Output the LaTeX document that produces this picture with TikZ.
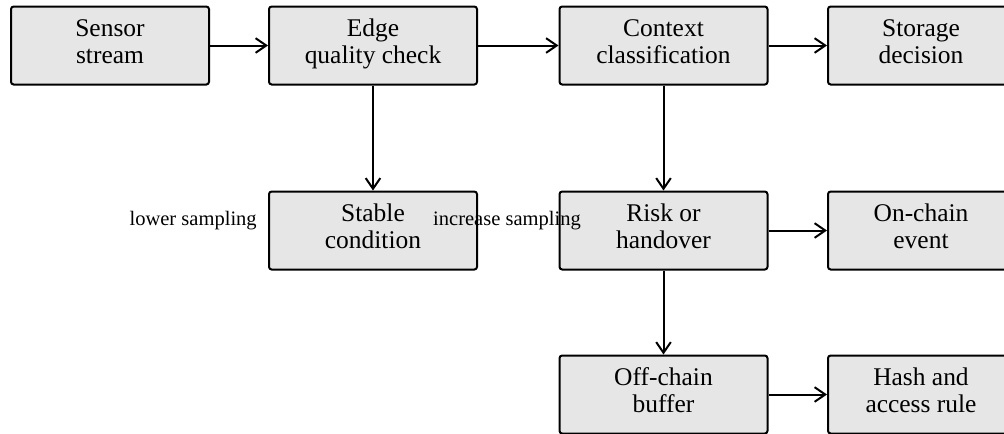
\documentclass[tikz,border=0pt]{standalone}
\usepackage{fontspec}
\setmainfont{Liberation Serif}
\usetikzlibrary{arrows.meta}
\definecolor{boxfill}{HTML}{E6E6E6}

\tikzset{
  stepbox/.style={draw=black, fill=boxfill, line width=1.5pt, rounded corners=2pt,
    minimum width=156pt, minimum height=58.5pt, align=center, inner sep=2pt,
    font=\fontsize{19.1}{20.25}\selectfont,
    execute at begin node=\strut, execute at end node=\strut},
  flow/.style={line width=1.5pt, -{Straight Barb[length=8pt,width=11pt,line width=1.5pt]}},
  note/.style={font=\fontsize{15.4}{17}\selectfont, inner sep=0pt}
}

\begin{document}
\begin{tikzpicture}[x=0.75pt,y=-0.75pt]
  \useasboundingbox (0,0) rectangle (1004,433);

  % top row
  \node[stepbox, minimum width=148.5pt] (sensor) at (110,45.5) {Sensor\\stream};
  \node[stepbox] (edge) at (373,45.5) {Edge\\quality check};
  \node[stepbox] (context) at (663.5,45.5) {Context\\classification};
  \node[stepbox, minimum width=139.5pt] (storage) at (921,45.5) {Storage\\decision};

  % middle row
  \node[stepbox] (stable) at (373,230.5) {Stable\\condition};
  \node[stepbox] (risk) at (663.5,230.5) {Risk or\\handover};
  \node[stepbox, minimum width=139.5pt] (onchain) at (921,230.5) {On-chain\\event};

  % bottom row
  \node[stepbox] (offchain) at (663.5,394.5) {Off-chain\\buffer};
  \node[stepbox, minimum width=139.5pt] (hash) at (921,394.5) {Hash and\\access rule};

  % labels
  \node[note, anchor=base east] (lower) at (257,225.5) {lower sampling};
  \node[note, anchor=base] (increase) at (507,225.5) {increase sampling};

  \draw[flow] (sensor) -- (edge);
  \draw[flow] (edge) -- (context);
  \draw[flow] (context) -- (storage);
  \draw[flow] (edge) -- (stable);
  \draw[flow] (context) -- (risk);
  \draw[flow] (risk) -- (onchain);
  \draw[flow] (risk) -- (offchain);
  \draw[flow] (offchain) -- (hash);
\end{tikzpicture}
\end{document}
